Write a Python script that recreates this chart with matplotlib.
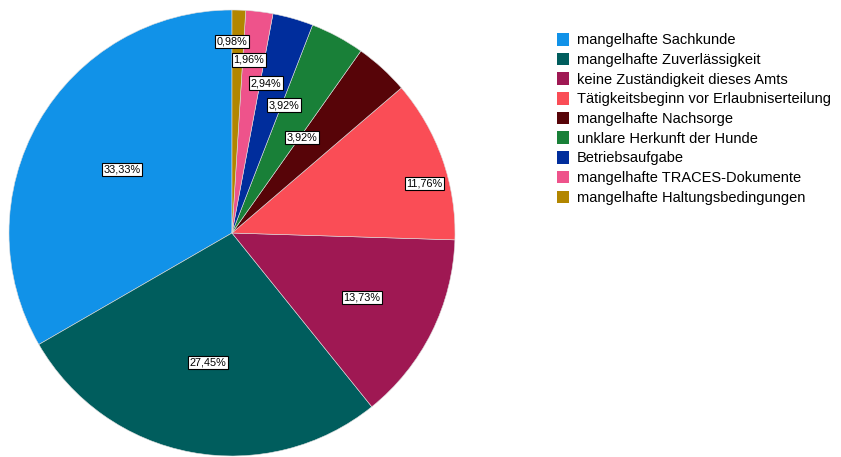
import numpy as np
import matplotlib
matplotlib.use('Agg')
import matplotlib.pyplot as plt
from matplotlib.patches import Patch

plt.rcParams['font.family'] = ['Liberation Sans', 'DejaVu Sans']

# Gründe (Anzahl Fälle, n = 102)
categories = ['mangelhafte Sachkunde', 'mangelhafte Zuverlässigkeit',
              'keine Zuständigkeit dieses Amts', 'Tätigkeitsbeginn vor Erlaubniserteilung',
              'mangelhafte Nachsorge', 'unklare Herkunft der Hunde', 'Betriebsaufgabe',
              'mangelhafte TRACES-Dokumente', 'mangelhafte Haltungsbedingungen']
counts = [34, 28, 14, 12, 4, 4, 3, 2, 1]
colors = ['#1192E8', '#005D5D', '#9F1853', '#FA4D56', '#570408',
          '#198038', '#002D9C', '#EE538B', '#B28600']

# label placement (fraction of radius, angle shift in degrees)
label_dist = [0.57, 0.59, 0.65, 0.89, 0.53, 0.62, 0.69, 0.78, 0.86]
label_shift = [0, 0, 0, -5, 6, 6, 3, 1.5, 1.8]

fig = plt.figure(figsize=(8.41, 4.57), dpi=100)
ax = fig.add_axes([9 / 841, 1 / 457, 446 / 841, 446 / 457])

wedges, _ = ax.pie(counts, colors=colors, startangle=90, counterclock=True,
                   radius=1, wedgeprops=dict(linewidth=0.4, edgecolor='#dddddd'))
ax.set_xlim(-1, 1)
ax.set_ylim(-1, 1)
ax.set_aspect('equal')
ax.axis('off')

total = sum(counts)
for w, c, d, s in zip(wedges, counts, label_dist, label_shift):
    ang = np.deg2rad((w.theta1 + w.theta2) / 2 + s)
    pct = f'{100 * c / total:.2f}%'.replace('.', ',')
    ax.text(d * np.cos(ang), d * np.sin(ang), pct, ha='center', va='center',
            fontsize=7.8, color='black',
            bbox=dict(boxstyle='square,pad=0.15', fc='white', ec='black', lw=0.8))

handles = [Patch(facecolor=col, edgecolor='none') for col in colors]
fig.legend(handles, categories, loc='upper left', bbox_to_anchor=(557 / 841, 1 - 33 / 457),
           frameon=False, fontsize=10.5, handlelength=0.82, handleheight=0.95,
           handletextpad=0.55, labelspacing=0.37, borderpad=0, borderaxespad=0)

fig.savefig('out.png', dpi=100)
